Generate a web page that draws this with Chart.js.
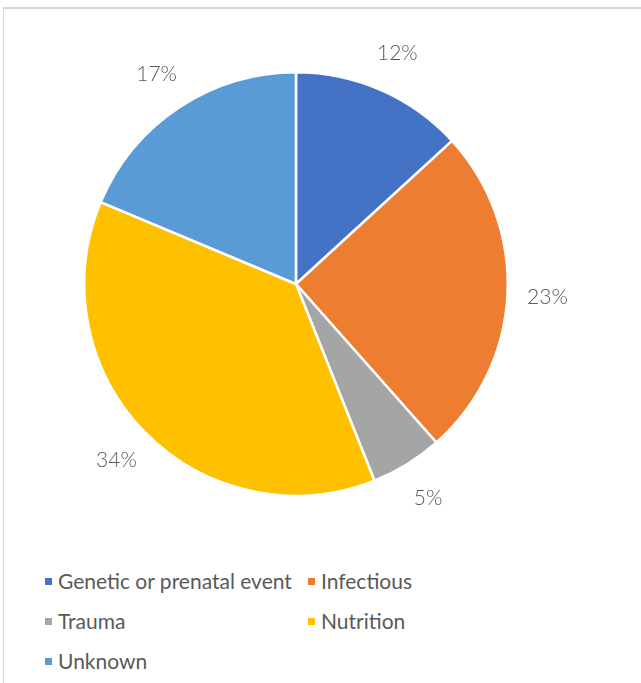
<!DOCTYPE html>
<html>
<head>
<meta charset="utf-8">
<script src="https://cdn.jsdelivr.net/npm/chart.js@4"></script>
<style>
    html, body { margin: 0; padding: 0; background: #fff; }
    body { width: 641px; height: 683px; position: relative; overflow: hidden; font-family: Lato, "Open Sans", sans-serif; }
    .frame { position: absolute; left: 3px; top: 7px; right: 0; bottom: 0; border-top: 2px solid #d9d9d9; border-left: 1px solid #d9d9d9; }
    #box { position: absolute; left: 4px; top: 10px; width: 584px; height: 540px; }
    #legenda { position: absolute; left: 45px; top: 568px; display: grid; grid-template-columns: 263px 200px; row-gap: 14px; }
    #legenda div { font-size: 21px; color: #595959; height: 26px; line-height: 26px; white-space: nowrap; }
    #legenda span { display: inline-block; width: 7px; height: 7px; margin-right: 6px; vertical-align: 4px; }
</style>
</head>
<body>
<div class="frame"></div>
<div id="box"><canvas id="graficoCausas"></canvas></div>
<div id="legenda"></div>
<script>
// --- Dados ---
const categorias = ['Genetic or prenatal event', 'Infectious', 'Trauma', 'Nutrition', 'Unknown'];
const valores = [12, 23, 5, 34, 17];
const rotulos = ['12%', '23%', '5%', '34%', '17%'];
const cores = ['#4472C4', '#ED7D31', '#A5A5A5', '#FFC000', '#5B9BD5'];

// rótulos fora das fatias
const rotulosFora = {
    id: 'rotulosFora',
    afterDatasetsDraw(chart) {
        const ctx = chart.ctx;
        const arcos = chart.getDatasetMeta(0).data;
        ctx.save();
        ctx.font = '300 21px Lato, "Open Sans", sans-serif';
        ctx.fillStyle = '#595959';
        ctx.textAlign = 'center';
        ctx.textBaseline = 'middle';
        arcos.forEach(function(arco, i) {
            const p = arco.getProps(['x', 'y', 'startAngle', 'endAngle', 'outerRadius'], true);
            const meio = (p.startAngle + p.endAngle) / 2;
            const r = p.outerRadius + 40;
            ctx.fillText(rotulos[i], p.x + Math.cos(meio) * r, p.y + Math.sin(meio) * r);
        });
        ctx.restore();
    }
};

new Chart(document.getElementById('graficoCausas'), {
    type: 'pie',
    data: {
        labels: categorias,
        datasets: [{
            data: valores,
            backgroundColor: cores,
            borderColor: '#ffffff',
            borderWidth: 2.5,
            hoverOffset: 0
        }]
    },
    options: {
        responsive: true,
        maintainAspectRatio: false,
        animation: false,
        layout: { padding: { left: 79, right: 79, top: 61, bottom: 53 } },
        plugins: {
            legend: { display: false },
            tooltip: { enabled: false }
        }
    },
    plugins: [rotulosFora]
});

// Legenda
const legenda = document.getElementById('legenda');
categorias.forEach(function(nome, i) {
    const item = document.createElement('div');
    item.innerHTML = '<span style="background:' + cores[i] + '"></span>' + nome;
    legenda.appendChild(item);
});
</script>
</body>
</html>
